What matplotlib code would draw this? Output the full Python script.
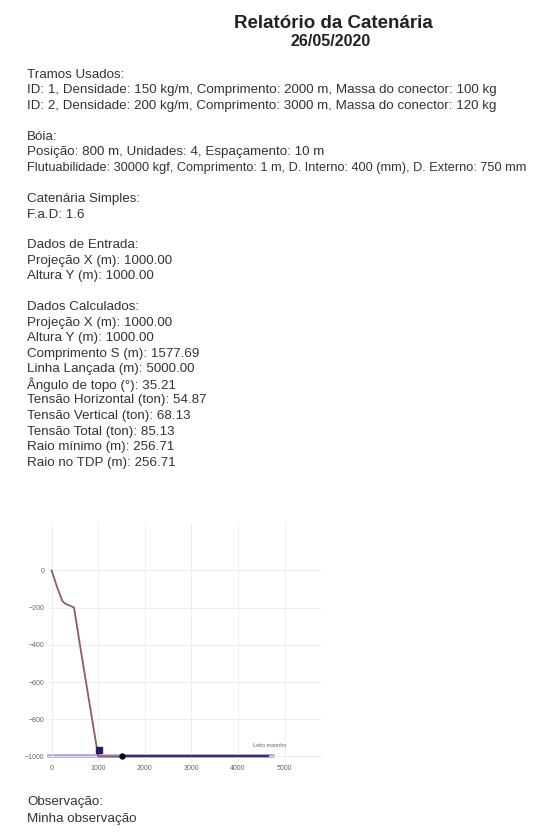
import matplotlib.pyplot as plt

plt.rcParams['font.family'] = ['Liberation Sans', 'DejaVu Sans']

W, H = 547, 832

titulo = "Relatório da Catenária"
data_relatorio = "26/05/2020"

linhas_relatorio = [
    "Tramos Usados:",
    "ID: 1, Densidade: 150 kg/m, Comprimento: 2000 m, Massa do conector: 100 kg",
    "ID: 2, Densidade: 200 kg/m, Comprimento: 3000 m, Massa do conector: 120 kg",
    "",
    "Bóia:",
    "Posição: 800 m, Unidades: 4, Espaçamento: 10 m",
    "Flutuabilidade: 30000 kgf, Comprimento: 1 m, D. Interno: 400 (mm), D. Externo: 750 mm",
    "",
    "Catenária Simples:",
    "F.a.D: 1.6",
    "",
    "Dados de Entrada:",
    "Projeção X (m): 1000.00",
    "Altura Y (m): 1000.00",
    "",
    "Dados Calculados:",
    "Projeção X (m): 1000.00",
    "Altura Y (m): 1000.00",
    "Comprimento S (m): 1577.69",
    "Linha Lançada (m): 5000.00",
    "Ângulo de topo (°): 35.21",
    "Tensão Horizontal (ton): 54.87",
    "Tensão Vertical (ton): 68.13",
    "Tensão Total (ton): 85.13",
    "Raio mínimo (m): 256.71",
    "Raio no TDP (m): 256.71",
]

observacao = ["Observação:", "Minha observação"]

# trecho 1 (suspenso + parte no solo ate o conector)
trecho1_x = [0, 110, 230, 300, 400, 480, 600, 750, 900, 1000, 1250, 1500]
trecho1_y = [0, -85, -165, -180, -190, -200, -390, -620, -850, -1000, -1000, -1000]
# trecho 2 (no solo)
trecho2_x = [1500, 4650]
trecho2_y = [-1000, -1000]
# leito marinho
solo_x = [-100, 4750]
solo_y = [-1000, -1000]
tdp_x, tdp_y = 1020, -968
conector_x, conector_y = 1500, -1000

xticks = [0, 1000, 2000, 3000, 4000, 5000]
yticks = [0, -200, -400, -600, -800, -1000]

fig = plt.figure(figsize=(W / 100, H / 100), dpi=100)


def fy(py):
    return 1 - py / H


fig.text(333 / W, fy(23), titulo, ha='center', va='center', fontsize=13.5, fontweight='bold', color='#222222')
fig.text(331 / W, fy(42), data_relatorio, ha='center', va='center', fontsize=11.5, fontweight='bold', color='#222222')

for i, linha in enumerate(linhas_relatorio):
    if not linha:
        continue
    # a linha mais longa ocupa quase toda a largura da pagina
    tam = 9.2 if len(linha) > 80 else 9.6
    fig.text(27 / W, fy(75 + 15.5 * i), linha, ha='left', va='center', fontsize=tam, color='#333333')

for i, linha in enumerate(observacao):
    fig.text(27 / W, fy(802 + 17 * i), linha, ha='left', va='center', fontsize=9.6, color='#333333')

ax = fig.add_axes([47 / W, (H - 762) / H, 275 / W, 239 / H])
ax.plot(solo_x, solo_y, color='#a6a6dc', lw=2.6, zorder=1)
ax.plot(trecho1_x, trecho1_y, color='#8e5a6c', lw=1.3, zorder=2)
ax.plot(trecho2_x, trecho2_y, color='#35355f', lw=1.6, zorder=2)
ax.plot([tdp_x], [tdp_y], marker='s', ms=5, color='#2b1c5c', zorder=3)
ax.plot([conector_x], [conector_y], marker='o', ms=3.5, color='black', zorder=3)
ax.text(4685, -940, "Leito marinho", fontsize=4, color='#666666', ha='center', va='center')

ax.set_xlim(-100, 5800)
ax.set_ylim(-1030, 255)
ax.set_xticks(xticks)
ax.set_yticks(yticks)
ax.tick_params(length=0, labelsize=5, colors='#666666', pad=2)
ax.grid(True, color='#ebebeb', lw=0.6)
for s in ax.spines.values():
    s.set_visible(False)

fig.savefig('out.png', dpi=100)
